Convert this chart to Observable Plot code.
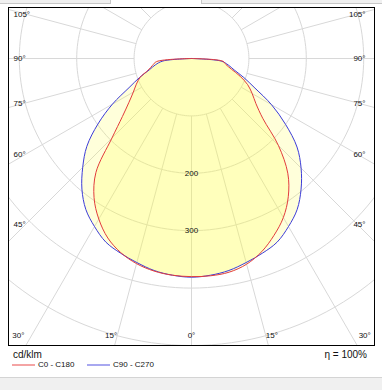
<!DOCTYPE html>
<html><head><meta charset="utf-8">
<script src="https://cdn.jsdelivr.net/npm/d3@7"></script>
<script src="https://cdn.jsdelivr.net/npm/@observablehq/plot@0.6"></script>
<style>
body{margin:0;background:#fff;font-family:"Liberation Sans",Arial,sans-serif;color:#111;}
#wrap{position:relative;width:382px;height:390px;overflow:hidden;background:#fff;}
#chart{position:absolute;left:0;top:0;}
.tab{position:absolute;top:0;height:3px;background:#f0f0f0;border-bottom:1px solid #c8c8c8;}
#foot{position:absolute;left:0;top:377px;width:382px;height:13px;background:#f0f0f0;border-top:1px solid #d4d4d4;}
.lg{position:absolute;white-space:nowrap;line-height:1;}
.sw{position:absolute;height:2px;}
</style></head><body>
<div id="wrap">
  <div id="chart"></div>
  <div class="tab" style="left:0;width:110px;border-right:1px solid #c8c8c8;"></div>
  <div class="tab" style="left:201px;width:181px;border-left:1px solid #c8c8c8;"></div>
  <div class="lg" id="unit" style="left:13px;top:350px;font-size:10px;"></div>
  <div class="sw" id="sw0" style="left:12px;top:364px;width:23px;"></div>
  <div class="lg" id="lg0" style="left:38px;top:361px;font-size:8px;"></div>
  <div class="sw" id="sw1" style="left:87px;top:364px;width:23px;"></div>
  <div class="lg" id="lg1" style="left:113px;top:361px;font-size:8px;"></div>
  <div class="lg" id="eta" style="right:15px;top:350px;font-size:10px;"></div>
  <div id="foot"></div>
</div>
<script>
// ---- data (cd/klm), gamma angles in degrees ----
const angles = [0,5,10,15,20,25,30,35,40,45,50,55,60,65,70,75,80,85,90];
const c0   = [380,380,378,371,358,340,320,294,261,214,162,137,122,108,90,72,61,55,0];
const c180 = [380,379,376,370,360,345,323,296,259,196,157,133,117,106,95,78,69,61,0];
const c90  = [381,379,375,368,361,353,338,321,297,270,240,200,161,122,97,77,65,52,0];
const c270 = [381,379,375,368,361,353,338,321,297,268,238,199,159,120,96,76,64,50,0];
const seriesNames = ["C0 - C180", "C90 - C270"];
const seriesColors = ["#e23c3c", "#3c3cd8"];
const legendColors = ["#f4a4a4", "#a8a8f0"];
const ringValues = [100,200,300,400,500];
const ringLabels = [200,300];
const rayAngles = [0,15,30,45,60,75,90,105,120,135,150,165,180];
const sideLabelAngles = [45,60,75,90,105];
const bottomLabelAngles = [0,15,30];
const unitLabel = "cd/klm";
const etaLabel = "\u03b7 = 100%";

// ---- geometry ----
const k = 0.574;          // px per cd/klm
const W = 382, H = 350;
const mL = 8, mR = 8, mT = 7, mB = 5;
const cx = 191, cy = 58;  // pole position in px
const rad = d => d * Math.PI / 180;

function polygon(left, right, name) {
  const pts = [];
  for (let i = angles.length - 1; i >= 0; i--) {
    const g = rad(angles[i]);
    pts.push({name, x: -left[i] * Math.sin(g), y: -left[i] * Math.cos(g)});
  }
  for (let i = 1; i < angles.length; i++) {
    const g = rad(angles[i]);
    pts.push({name, x: right[i] * Math.sin(g), y: -right[i] * Math.cos(g)});
  }
  return pts;
}
const red = polygon(c180, c0, seriesNames[0]);
const blue = polygon(c270, c90, seriesNames[1]);

const ringPts = [];
for (const r of ringValues) for (let t = 0; t <= 360; t += 2)
  ringPts.push({ring: r, x: r * Math.sin(rad(t)), y: r * Math.cos(rad(t))});

const rays = [];
for (const a of rayAngles) for (const s of (a === 0 || a === 180 ? [1] : [-1, 1]))
  rays.push({a: s * a});

const sideReach = 166 / k, bottomReach = 300 / k;
const leftCol = (13 - cx) / k, rightCol = (365 - cx) / k, bottomRow = (cy - 335) / k;
const leftLabels = [], rightLabels = [], bottomLabels = [];
for (const a of sideLabelAngles) {
  const y = -sideReach / Math.tan(rad(a));
  leftLabels.push({x: leftCol, y, t: a + "\u00b0"});
  rightLabels.push({x: rightCol, y, t: a + "\u00b0"});
}
for (const a of bottomLabelAngles) for (const s of (a === 0 ? [1] : [-1, 1]))
  bottomLabels.push({x: s * bottomReach * Math.tan(rad(a)), y: bottomRow, t: a + "\u00b0"});

const xDom = [-(cx - mL) / k, (W - mR - cx) / k];
const yDom = [-(H - mB - cy) / k, (cy - mT) / k];

const fillCol = "#ffff46";
const fo = 0.2;
const txt = {x: "x", y: "y", text: "t", fontSize: 8, fill: "#111"};
const plot = Plot.plot({
  width: W, height: H,
  marginLeft: mL, marginRight: mR, marginTop: mT, marginBottom: mB,
  x: {domain: xDom, axis: null},
  y: {domain: yDom, axis: null},
  style: {fontFamily: '"Liberation Sans", Arial, sans-serif', background: "transparent", color: "#111"},
  marks: [
    Plot.line(ringPts, {x: "x", y: "y", z: "ring", stroke: "#d8d8d8", strokeWidth: 1, clip: true}),
    Plot.link(rays, {
      x1: d => 100 * Math.sin(rad(d.a)), y1: d => -100 * Math.cos(rad(d.a)),
      x2: d => 900 * Math.sin(rad(d.a)), y2: d => -900 * Math.cos(rad(d.a)),
      stroke: "#d8d8d8", strokeWidth: 1, clip: true}),
    Plot.line(red, {x: "x", y: "y", fill: fillCol, fillOpacity: fo, stroke: "none", curve: "catmull-rom"}),
    Plot.line(blue, {x: "x", y: "y", fill: fillCol, fillOpacity: fo, stroke: "none", curve: "catmull-rom"}),
    Plot.line(blue, {x: "x", y: "y", stroke: seriesColors[1], strokeWidth: 1, curve: "catmull-rom"}),
    Plot.line(red, {x: "x", y: "y", stroke: seriesColors[0], strokeWidth: 1, curve: "catmull-rom"}),
    Plot.text(ringLabels, {x: 0, y: d => -d, text: d => String(d), fontSize: 8, fill: "#111"}),
    Plot.text(leftLabels, {...txt, textAnchor: "start"}),
    Plot.text(rightLabels, {...txt, textAnchor: "end"}),
    Plot.text(bottomLabels, {...txt, textAnchor: "middle"}),
    Plot.frame({stroke: "#000", strokeWidth: 1})
  ]
});
document.getElementById("chart").append(plot);

document.getElementById("unit").textContent = unitLabel;
document.getElementById("lg0").textContent = seriesNames[0];
document.getElementById("lg1").textContent = seriesNames[1];
document.getElementById("sw0").style.background = legendColors[0];
document.getElementById("sw1").style.background = legendColors[1];
document.getElementById("eta").textContent = etaLabel;
</script>
</body></html>
